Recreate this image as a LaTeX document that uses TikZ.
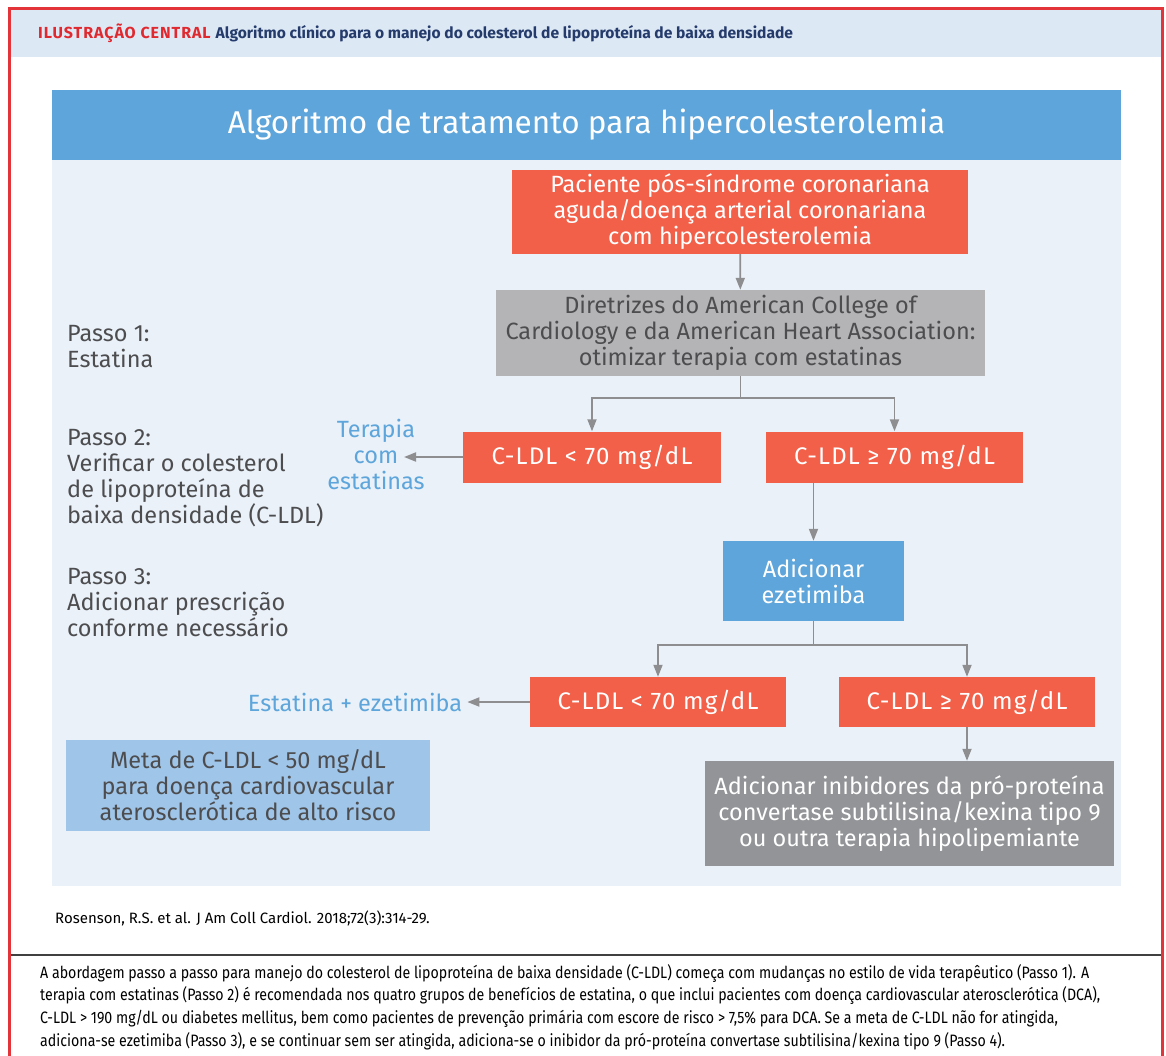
\documentclass[tikz,border=0pt]{standalone}
\usepackage{fontspec}
\setmainfont{Fira Sans}
\newfontfamily\condfont[FakeStretch=0.86]{Fira Sans}
\newfontfamily\espacado[LetterSpace=6]{Fira Sans}
\newfontfamily\ldlfont[LetterSpace=5]{Fira Sans}
\usetikzlibrary{positioning,arrows.meta}

\definecolor{moldura}{HTML}{E3343A}
\definecolor{faixa}{HTML}{DDE8F5}
\definecolor{painel}{HTML}{EAF1F9}
\definecolor{azul}{HTML}{5DA5DA}
\definecolor{azulclaro}{HTML}{9FC5E8}
\definecolor{vermelho}{HTML}{F26049}
\definecolor{cinza}{HTML}{B4B4B6}
\definecolor{cinzaesc}{HTML}{929497}
\definecolor{seta}{HTML}{8E8E90}
\definecolor{texto}{HTML}{4D4D4F}
\definecolor{marinho}{HTML}{243B6B}
\definecolor{rotulo}{HTML}{E0282F}

\begin{document}
\begin{tikzpicture}[
    x=1pt, y=-1pt,
    box/.style={rectangle, align=center, inner sep=0pt, font=\fontsize{23.5}{26}\selectfont},
    redbox/.style={box, fill=vermelho, text=white},
    ldlbox/.style={redbox, font=\ldlfont\fontsize{24}{26}\selectfont},
    graybox/.style={box, fill=cinza, text=texto},
    darkbox/.style={box, fill=cinzaesc, text=white},
    bluebox/.style={box, fill=azul, text=white},
    metabox/.style={box, fill=azulclaro, text=texto},
    passo/.style={align=left, anchor=west, inner sep=0pt, text=texto, font=\fontsize{23.5}{26}\selectfont},
    saida/.style={align=center, inner sep=5pt, text=azul, font=\fontsize{23.5}{26}\selectfont},
    line/.style={draw=seta, line width=1.8pt},
    arrow/.style={line, -{Triangle[length=12pt,width=9pt]}}
]
\useasboundingbox (0,0) rectangle (1166,1056);
\fill[white] (0,0) rectangle (1166,1056);

% Cabecalho
\fill[faixa] (10,10) rectangle (1161,57);
\node[anchor=west, inner sep=0pt, font=\fontsize{16}{18}\selectfont\bfseries] (cabec) at (38,33)
    {\textcolor{rotulo}{\espacado\bfseries ILUSTRAÇÃO CENTRAL}\hspace{5pt}\textcolor{marinho}{\fontsize{15.6}{18}\selectfont\bfseries Algoritmo clínico para o manejo do colesterol de lipoproteína de baixa densidade}};

% Painel e titulo
\fill[painel] (52,160) rectangle (1121,886);
\node[bluebox, minimum width=1069pt, minimum height=70pt, font=\fontsize{31.5}{34}\selectfont] (titulo) at (586.5,125)
    {Algoritmo de tratamento para hipercolesterolemia};

% Passos (coluna da esquerda)
\node[passo] (passo1) at (67,347) {Passo 1:\\Estatina};
\node[passo] (passo2) at (67,478) {Passo 2:\\Verificar o colesterol\\de lipoproteína de\\baixa densidade (C-LDL)};
\node[passo] (passo3) at (67,603) {Passo 3:\\Adicionar prescrição\\conforme necessário};

% Fluxo principal
\node[redbox, minimum width=456pt, minimum height=84pt] (paciente) at (740,212)
    {Paciente pós-síndrome coronariana\\aguda/doença arterial coronariana\\com hipercolesterolemia};
\node[graybox, minimum width=489pt, minimum height=86pt] (diretrizes) at (740.5,333)
    {Diretrizes do American College of\\Cardiology e da American Heart Association:\\otimizar terapia com estatinas};
\node[ldlbox, minimum width=258pt, minimum height=51pt] (menor1) at (592,457) {C-LDL < 70 mg/dL};
\node[ldlbox, minimum width=257pt, minimum height=51pt] (maior1) at (894.5,457) {C-LDL ≥ 70 mg/dL};
\node[saida] (terapia) at (376,454) {Terapia\\com\\estatinas};
\coordinate (terapia-in) at (404,457);
\node[bluebox, minimum width=181pt, minimum height=80pt] (ezetimiba) at (813.5,581) {Adicionar\\ezetimiba};
\node[ldlbox, minimum width=256pt, minimum height=50pt] (menor2) at (658,702) {C-LDL < 70 mg/dL};
\node[ldlbox, minimum width=256pt, minimum height=50pt] (maior2) at (967,702) {C-LDL ≥ 70 mg/dL};
\node[saida] (estaeze) at (355,702) {Estatina + ezetimiba};
\node[darkbox, minimum width=409pt, minimum height=105pt] (pcsk9) at (909.5,813.5)
    {Adicionar inibidores da pró-proteína\\convertase subtilisina/kexina tipo 9\\ou outra terapia hipolipemiante};
\node[metabox, minimum width=364pt, minimum height=91pt] (meta) at (248,785.5)
    {Meta de C-LDL < 50 mg/dL\\para doença cardiovascular\\aterosclerótica de alto risco};

\coordinate (div1) at (740.5,398);
\coordinate (div2) at (813.5,645);

\draw[arrow] (paciente) -- (diretrizes);
\draw[line] (diretrizes) -- (div1);
\draw[arrow] (div1) -| (menor1);
\draw[arrow] (div1) -| (maior1);
\draw[arrow] (menor1) -- (terapia-in);
\draw[arrow] (maior1.south -| ezetimiba.north) -- (ezetimiba);
\draw[line] (ezetimiba) -- (div2);
\draw[arrow] (div2) -| (menor2);
\draw[arrow] (div2) -| (maior2);
\draw[arrow] (menor2) -- (estaeze);
\draw[arrow] (maior2) -- (maior2.south |- pcsk9.north);

% Referencia e legenda
\node[anchor=west, inner sep=0pt, font=\fontsize{15}{18}\selectfont] (ref) at (55,918)
    {Rosenson, R.S. et al. J Am Coll Cardiol. 2018;72(3):314-29.};
\draw[draw=black!75, line width=1.5pt] (10,955) -- (1161,955);
\node[anchor=west, align=left, inner sep=0pt, font=\condfont\fontsize{16.5}{22.7}\selectfont] (legenda) at (40,1007)
    {A abordagem passo a passo para manejo do colesterol de lipoproteína de baixa densidade (C-LDL) começa com mudanças no estilo de vida terapêutico (Passo 1). A\\
     terapia com estatinas (Passo 2) é recomendada nos quatro grupos de benefícios de estatina, o que inclui pacientes com doença cardiovascular aterosclerótica (DCA),\\
     C-LDL > 190 mg/dL ou diabetes mellitus, bem como pacientes de prevenção primária com escore de risco > 7,5\% para DCA. Se a meta de C-LDL não for atingida,\\
     adiciona-se ezetimiba (Passo 3), e se continuar sem ser atingida, adiciona-se o inibidor da pró-proteína convertase subtilisina/kexina tipo 9 (Passo 4).};

% Moldura vermelha
\draw[moldura, line width=3pt] (9,1070) -- (9,9) -- (1162,9) -- (1162,1070);
\end{tikzpicture}
\end{document}
